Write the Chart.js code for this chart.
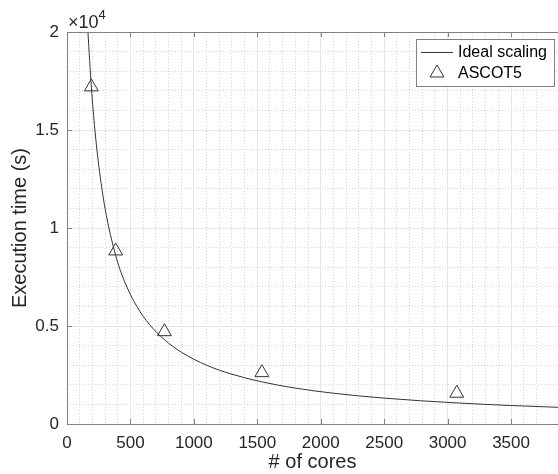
<!DOCTYPE html>
<html>
<head>
<meta charset="utf-8">
<script src="https://cdn.jsdelivr.net/npm/chart.js@4"></script>
<style>
  html, body { margin: 0; padding: 0; background: #fff; }
  #wrap { width: 558px; height: 474px; }
</style>
</head>
<body>
<div id="wrap"><canvas id="scalingChart" width="558" height="474"></canvas></div>
<script>
// measured runs
const cores = [192, 384, 768, 1536, 3072];
const execTime = [17200, 8830, 4710, 2620, 1570];

// ideal scaling curve, sampled along the core axis
const idealCores = [165, 192, 220, 250, 300, 384, 450, 550, 650, 768, 900, 1100, 1300, 1536, 1800, 2100, 2500, 3072, 3500, 3870];
const idealTime = [20000, 17190, 15000, 13200, 11000, 8590, 7330, 6000, 5080, 4300, 3670, 3000, 2540, 2150, 1830, 1570, 1320, 1075, 943, 853];

const xTicks = [0, 500, 1000, 1500, 2000, 2500, 3000, 3500];
const yTicks = [0, 5000, 10000, 15000, 20000];
const yScaleExp = 4;

const FONT = "'Liberation Sans', Arial, Helvetica, sans-serif";
const AXIS = '#808080';
const MAJOR = '#e6e6e6';
const MINOR = '#d6d6d6';

// inward tick marks on all sides + the x10^4 multiplier
const axesExtras = {
    id: 'axesExtras',
    afterDraw(chart) {
        const { ctx, chartArea: a } = chart;
        const x = chart.scales.x, y = chart.scales.y;
        ctx.save();
        ctx.strokeStyle = AXIS;
        ctx.lineWidth = 1;
        ctx.beginPath();
        xTicks.forEach(v => {
            const px = Math.round(x.getPixelForValue(v)) + 0.5;
            ctx.moveTo(px, a.bottom); ctx.lineTo(px, a.bottom - 5);
            ctx.moveTo(px, a.top); ctx.lineTo(px, a.top + 5);
        });
        yTicks.forEach(v => {
            const py = Math.round(y.getPixelForValue(v)) + 0.5;
            ctx.moveTo(a.left, py); ctx.lineTo(a.left + 5, py);
        });
        // top border of the box
        ctx.moveTo(a.left, a.top + 0.5); ctx.lineTo(a.right, a.top + 0.5);
        ctx.stroke();

        ctx.fillStyle = '#262626';
        ctx.textBaseline = 'alphabetic';
        ctx.font = '18px ' + FONT;
        ctx.fillText('\u00d710', a.left + 1, a.top - 4);
        const w = ctx.measureText('\u00d710').width;
        ctx.font = '13px ' + FONT;
        ctx.fillText(String(yScaleExp), a.left + 1 + w, a.top - 13);
        ctx.restore();
    }
};

// boxed legend in the upper right corner
const boxLegend = {
    id: 'boxLegend',
    afterDraw(chart) {
        const { ctx } = chart;
        const ds = chart.data.datasets;
        const bx = 416.5, by = 39.5, bw = 138, bh = 47;
        ctx.save();
        ctx.fillStyle = '#fff';
        ctx.fillRect(bx, by, bw, bh);
        ctx.strokeStyle = AXIS;
        ctx.lineWidth = 1;
        ctx.strokeRect(bx, by, bw, bh);

        // line entry
        ctx.strokeStyle = ds[0].borderColor;
        ctx.beginPath();
        ctx.moveTo(421, 52.5); ctx.lineTo(453, 52.5);
        ctx.stroke();

        // marker entry
        ctx.fillStyle = 'rgba(0,0,0,0)';
        ctx.strokeStyle = ds[1].pointBorderColor;
        ctx.lineWidth = 1;
        Chart.helpers.drawPoint(ctx, {
            pointStyle: 'triangle', radius: ds[1].pointRadius, borderWidth: 1
        }, 437, 73);

        ctx.font = '16px ' + FONT;
        ctx.fillStyle = '#000';
        ctx.textBaseline = 'middle';
        ctx.fillText(ds[0].label, 458, 53);
        ctx.fillText(ds[1].label, 458, 73.5);
        ctx.restore();
    }
};

const ctx = document.getElementById('scalingChart').getContext('2d');

new Chart(ctx, {
    type: 'scatter',
    data: {
        datasets: [{
            label: 'Ideal scaling',
            type: 'line',
            data: idealCores.map((c, i) => ({ x: c, y: idealTime[i] })),
            borderColor: '#333333',
            borderWidth: 1,
            pointRadius: 0,
            cubicInterpolationMode: 'monotone',
            fill: false
        }, {
            label: 'ASCOT5',
            data: cores.map((c, i) => ({ x: c, y: execTime[i] })),
            pointStyle: 'triangle',
            pointRadius: 8,
            pointBorderWidth: 1,
            pointBorderColor: '#333333',
            pointBackgroundColor: 'rgba(0,0,0,0)'
        }]
    },
    options: {
        responsive: false,
        animation: false,
        layout: { autoPadding: false, padding: { top: 32, right: 0, left: 0, bottom: 0 } },
        plugins: {
            legend: { display: false },
            tooltip: { enabled: false }
        },
        scales: {
            xMinor: {
                type: 'linear', position: 'bottom', min: 0, max: 3870,
                ticks: { display: false, stepSize: 100 },
                grid: { color: MINOR, drawTicks: false },
                border: { display: false, dash: [1, 2] },
                afterFit: s => { s.height = 0; }
            },
            yMinor: {
                type: 'linear', position: 'left', min: 0, max: 20000,
                ticks: { display: false, stepSize: 1000 },
                grid: { color: MINOR, drawTicks: false },
                border: { display: false, dash: [1, 2] },
                afterFit: s => { s.width = 0; }
            },
            x: {
                type: 'linear', position: 'bottom', min: 0, max: 3870,
                afterBuildTicks: s => { s.ticks = xTicks.map(v => ({ value: v })); },
                ticks: {
                    color: '#262626', padding: 9,
                    font: { family: FONT, size: 17 },
                    maxRotation: 0,
                    callback: v => String(v)
                },
                grid: { color: MAJOR, drawTicks: false },
                border: { color: AXIS },
                title: {
                    display: true, text: '# of cores', color: '#262626',
                    font: { family: FONT, size: 20 },
                    padding: { top: 0, bottom: 0 }
                },
                afterFit: s => { s.height = 50; }
            },
            y: {
                type: 'linear', position: 'left', min: 0, max: 20000,
                afterBuildTicks: s => { s.ticks = yTicks.map(v => ({ value: v })); },
                ticks: {
                    color: '#262626', padding: 8,
                    font: { family: FONT, size: 17 },
                    callback: v => String(v / Math.pow(10, yScaleExp))
                },
                grid: { color: MAJOR, drawTicks: false },
                border: { color: AXIS },
                title: {
                    display: true, text: 'Execution time (s)', color: '#262626',
                    font: { family: FONT, size: 20 },
                    padding: { top: 8, bottom: 0 }
                },
                afterFit: s => { s.width = 67; }
            }
        }
    },
    plugins: [axesExtras, boxLegend]
});
</script>
</body>
</html>
